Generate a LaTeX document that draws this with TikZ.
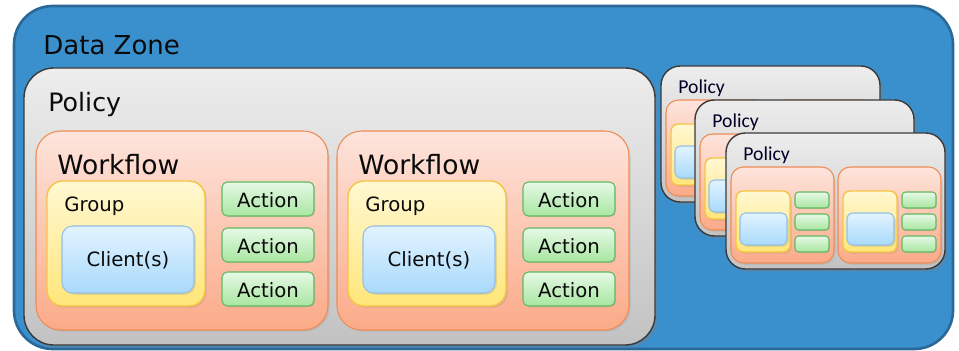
\documentclass[tikz,border=0pt]{standalone}
\usepackage{fontspec}
\setmainfont{DejaVu Sans}
\newfontfamily\minifont{Carlito}
\usetikzlibrary{shadows}

\definecolor{zonefill}{HTML}{3A8FCD}
\definecolor{zoneline}{HTML}{2A6898}
\definecolor{policytop}{HTML}{EDEDED}
\definecolor{policybot}{HTML}{C2C2C2}
\definecolor{policyline}{HTML}{3A3A3A}
\definecolor{wftop}{HTML}{FDE4DC}
\definecolor{wfbot}{HTML}{FBAA88}
\definecolor{wfline}{HTML}{EE8C55}
\definecolor{grptop}{HTML}{FFF8D2}
\definecolor{grpbot}{HTML}{FFE67A}
\definecolor{grpline}{HTML}{F6C443}
\definecolor{clitop}{HTML}{E2F3FF}
\definecolor{clibot}{HTML}{A9DAFB}
\definecolor{cliline}{HTML}{95BFE4}
\definecolor{acttop}{HTML}{E6F9E6}
\definecolor{actbot}{HTML}{A8E6A0}
\definecolor{actline}{HTML}{62B862}
\definecolor{inktext}{HTML}{0A0A0A}

% one of the stacked policies, drawn smaller
\newcommand\minipolicy[3]{%
  \begin{scope}[shift={(#2,#3)}]
    \draw[policy, rounded corners=11pt] (0,0) rectangle (219,136);
    \node[title, font=\minifont\fontsize{11.2}{13}\selectfont, text=black!85!blue] (#1) at (17,28) {Policy};
    \foreach \wx in {0,107} {
      \draw[workflow, rounded corners=7pt] (5+\wx,34) rectangle (108+\wx,130);
      \draw[group, rounded corners=4pt] (10+\wx,58) rectangle (64+\wx,119);
      \draw[client, rounded corners=3pt] (14+\wx,80) rectangle (61+\wx,112);
      \foreach \ay in {59,81,103}
        \draw[action, rounded corners=2pt] (69+\wx,\ay) rectangle (103+\wx,\ay+16);
    }
  \end{scope}}

\begin{document}
\begin{tikzpicture}[
  x=0.02cm, y=-0.02cm,
  every node/.style={text=inktext},
  zone/.style={draw=zoneline, fill=zonefill, line width=1.5pt, rounded corners=22pt},
  policy/.style={draw=policyline, line width=0.8pt, top color=policytop, bottom color=policybot,
    drop shadow={opacity=0.35, shadow xshift=1.5pt, shadow yshift=-1.5pt}},
  workflow/.style={draw=wfline, line width=0.6pt, top color=wftop, bottom color=wfbot,
    drop shadow={opacity=0.15, shadow xshift=1pt, shadow yshift=-1pt}},
  group/.style={draw=grpline, line width=0.8pt, top color=grptop, bottom color=grpbot,
    drop shadow={opacity=0.2, shadow xshift=1pt, shadow yshift=-1pt}},
  client/.style={draw=cliline, line width=0.6pt, top color=clitop, bottom color=clibot,
    drop shadow={opacity=0.2, shadow xshift=1pt, shadow yshift=-1pt}},
  action/.style={draw=actline, line width=0.6pt, top color=acttop, bottom color=actbot,
    drop shadow={opacity=0.15, shadow xshift=0.7pt, shadow yshift=-0.7pt}},
  title/.style={anchor=base west, inner sep=0pt},
  big/.style={font=\fontsize{14.8}{17}\selectfont},
  mid/.style={font=\fontsize{11.2}{13}\selectfont}
]
\useasboundingbox (0,0) rectangle (959,351);

\draw[zone] (14,6) rectangle (953,349);
\node[title, big] (zonetitle) at (43,55) {Data Zone};

% stacked policies on the right
\minipolicy{policyA}{661}{66}
\minipolicy{policyB}{695}{100}
\minipolicy{policyC}{726}{133}

% main policy
\draw[policy, rounded corners=17pt] (24,68) rectangle (655,345);
\node[title, font=\fontsize{14.4}{17}\selectfont] (policytitle) at (48,112) {Policy};

\foreach \wx/\wn in {0/1, 301/2} {
  \begin{scope}[shift={(\wx,0)}]
    \draw[workflow, rounded corners=14pt] (36,131) rectangle (328,330);
    \node[title, font=\fontsize{15.1}{17}\selectfont] (workflow\wn) at (57,174) {Workflow};
    \draw[group, rounded corners=9pt] (47,181) rectangle (205,306);
    \node[title, mid] (group\wn) at (64,212) {Group};
    \draw[client, rounded corners=6pt] (62,226) rectangle (194,293);
    \node[mid] (client\wn) at (128,260.5) {Client(s)};
    \foreach \ay/\an in {182/a, 228/b, 272/c} {
      \draw[action, rounded corners=3pt] (222,\ay) rectangle (314,\ay+34);
      \node[mid] (action\wn\an) at (268,\ay+18.5) {Action};
    }
  \end{scope}
}
\end{tikzpicture}
\end{document}
